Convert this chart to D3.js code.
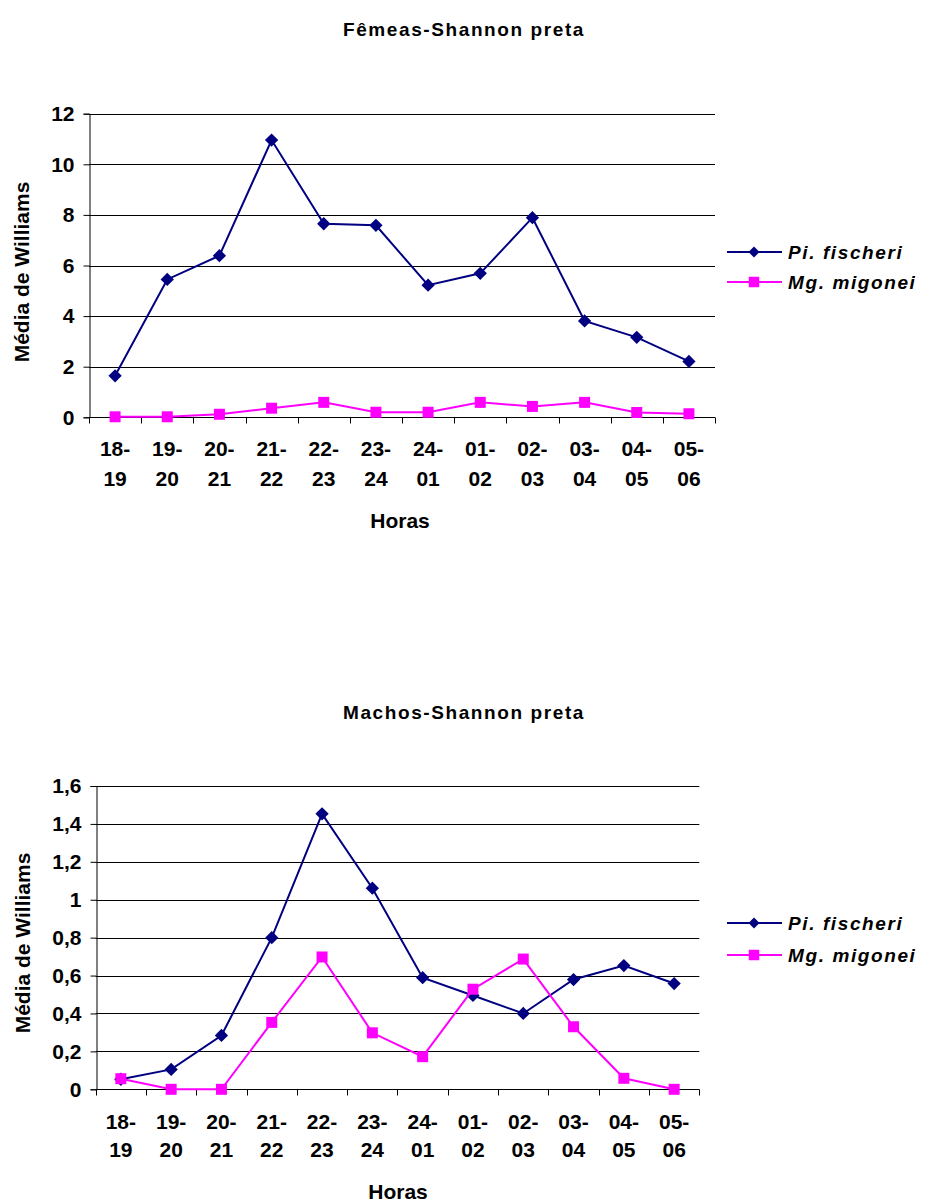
<!DOCTYPE html>
<html>
<head>
<meta charset="utf-8">
<script src="https://cdn.jsdelivr.net/npm/d3@7"></script>
<style>
  html, body { margin: 0; padding: 0; background: #fff; }
  svg { display: block; font-family: "Liberation Sans", Arial, sans-serif; font-weight: bold; }
</style>
</head>
<body>
<svg id="chart" width="930" height="1203"></svg>
<script>
// Hour intervals (x categories)
const hours = ["18-19", "19-20", "20-21", "21-22", "22-23", "23-24",
               "24-01", "01-02", "02-03", "03-04", "04-05", "05-06"];
const seriesNames = ["Pi. fischeri", "Mg. migonei"];

// Females: Williams mean per hour interval
const femeasPi = [1.64, 5.45, 6.39, 10.96, 7.65, 7.59, 5.22, 5.69, 7.89, 3.81, 3.16, 2.21];
const femeasMg = [0.02, 0.02, 0.12, 0.36, 0.59, 0.2, 0.2, 0.59, 0.43, 0.59, 0.19, 0.14];
const femeasTicks = [0, 2, 4, 6, 8, 10, 12];

// Males: Williams mean per hour interval
const machosPi = [0.053, 0.105, 0.284, 0.8, 1.453, 1.061, 0.589, 0.495, 0.4, 0.579, 0.653, 0.558];
const machosMg = [0.056, 0, 0, 0.353, 0.698, 0.298, 0.172, 0.528, 0.687, 0.33, 0.058, 0];
const machosTicks = [0, 0.2, 0.4, 0.6, 0.8, 1, 1.2, 1.4, 1.6];

const colors = ["#000080", "#ff00ff"];
const svg = d3.select("#chart");
const fmt = v => String(+v.toFixed(1)).replace(".", ",");

function drawChart(cfg) {
  const g = svg.append("g");
  const x = d3.scaleBand().domain(hours).range([cfg.left, cfg.right]);
  const y = d3.scaleLinear().domain([0, cfg.ticks[cfg.ticks.length - 1]]).range([cfg.bottom, cfg.top]);

  // title
  g.append("text")
    .attr("x", 464).attr("y", cfg.titleY)
    .attr("text-anchor", "middle")
    .style("font-size", "19px").style("letter-spacing", "1.6px")
    .text(cfg.title);

  // horizontal gridlines
  g.append("g").selectAll("line").data(cfg.ticks.slice(1)).join("line")
    .attr("x1", cfg.left).attr("x2", cfg.right)
    .attr("y1", d => Math.round(y(d)) + 0.5).attr("y2", d => Math.round(y(d)) + 0.5)
    .attr("stroke", "#000").attr("stroke-width", 1);

  // y axis
  const yAxis = g.append("g")
    .attr("transform", `translate(${Math.round(cfg.left) + 0.5},0)`)
    .call(d3.axisLeft(y).tickValues(cfg.ticks).tickFormat(fmt).tickSize(6).tickPadding(9));
  yAxis.select(".domain").attr("stroke", "#000");
  yAxis.selectAll(".tick line").attr("stroke", "#000");
  yAxis.selectAll("text").style("font-size", "21px").style("font-family", "inherit")
    .style("font-weight", "bold").attr("fill", "#000");

  // x axis with tick marks at category boundaries
  const xg = g.append("g").attr("transform", `translate(0,${Math.round(cfg.bottom) + 0.5})`);
  xg.append("line").attr("x1", cfg.left).attr("x2", cfg.right).attr("stroke", "#000");
  const bounds = hours.map(h => x(h)).concat([cfg.right]);
  xg.selectAll("line.tk").data(bounds).join("line").attr("class", "tk")
    .attr("x1", d => Math.round(d) + 0.5).attr("x2", d => Math.round(d) + 0.5)
    .attr("y1", 0).attr("y2", 6).attr("stroke", "#000");

  // two-line hour labels under each category
  const mid = d => x(d) + x.bandwidth() / 2;
  const lbl = g.append("g").selectAll("text").data(hours).join("text")
    .attr("text-anchor", "middle")
    .style("font-size", "21px");
  lbl.append("tspan").attr("x", mid).attr("y", cfg.lbl1).text(d => d.split("-")[0] + "-");
  lbl.append("tspan").attr("x", mid).attr("y", cfg.lbl2).text(d => d.split("-")[1]);

  // axis titles
  g.append("text").attr("x", cfg.horasX).attr("y", cfg.horasY)
    .attr("text-anchor", "middle").style("font-size", "21px").text("Horas");
  g.append("text")
    .attr("transform", `translate(${cfg.ylabX},${cfg.ylabY}) rotate(-90)`)
    .attr("text-anchor", "middle").style("font-size", "21px").text("Média de Williams");

  // series: lines with diamond / square markers
  const cx = (d, i) => mid(hours[i]);
  [cfg.pi, cfg.mg].forEach((vals, s) => {
    g.append("path").datum(vals)
      .attr("fill", "none").attr("stroke", colors[s]).attr("stroke-width", 2)
      .attr("d", d3.line().x(cx).y(d => y(d)));
    g.append("g").selectAll("path").data(vals).join("path")
      .attr("transform", (d, i) => `translate(${cx(d, i)},${y(d)})${s === 0 ? " rotate(45)" : ""}`)
      .attr("d", d3.symbol().type(d3.symbolSquare).size(s === 0 ? 88 : 121))
      .attr("fill", colors[s]);
  });

  // legend
  seriesNames.forEach((name, s) => {
    const ly = cfg.legY[s];
    g.append("line").attr("x1", 727).attr("x2", 782).attr("y1", ly).attr("y2", ly)
      .attr("stroke", colors[s]).attr("stroke-width", 2);
    g.append("path")
      .attr("transform", `translate(754,${ly})${s === 0 ? " rotate(45)" : ""}`)
      .attr("d", d3.symbol().type(d3.symbolSquare).size(s === 0 ? 60 : 110))
      .attr("fill", colors[s]);
    g.append("text").attr("x", 788).attr("y", ly + 7)
      .style("font-size", "19px").style("font-style", "italic").style("letter-spacing", "1.6px")
      .text(name);
  });
}

drawChart({
  title: "Fêmeas-Shannon preta", titleY: 36,
  left: 89, right: 715, top: 113.7, bottom: 417.3,
  ticks: femeasTicks, pi: femeasPi, mg: femeasMg,
  lbl1: 456, lbl2: 486, horasX: 400, horasY: 528,
  ylabX: 29, ylabY: 272, legY: [252, 282]
});

drawChart({
  title: "Machos-Shannon preta", titleY: 719,
  left: 95.7, right: 699.3, top: 786, bottom: 1089.3,
  ticks: machosTicks, pi: machosPi, mg: machosMg,
  lbl1: 1129, lbl2: 1157, horasX: 398, horasY: 1199,
  ylabX: 30, ylabY: 943, legY: [923, 955]
});
</script>
</body>
</html>
